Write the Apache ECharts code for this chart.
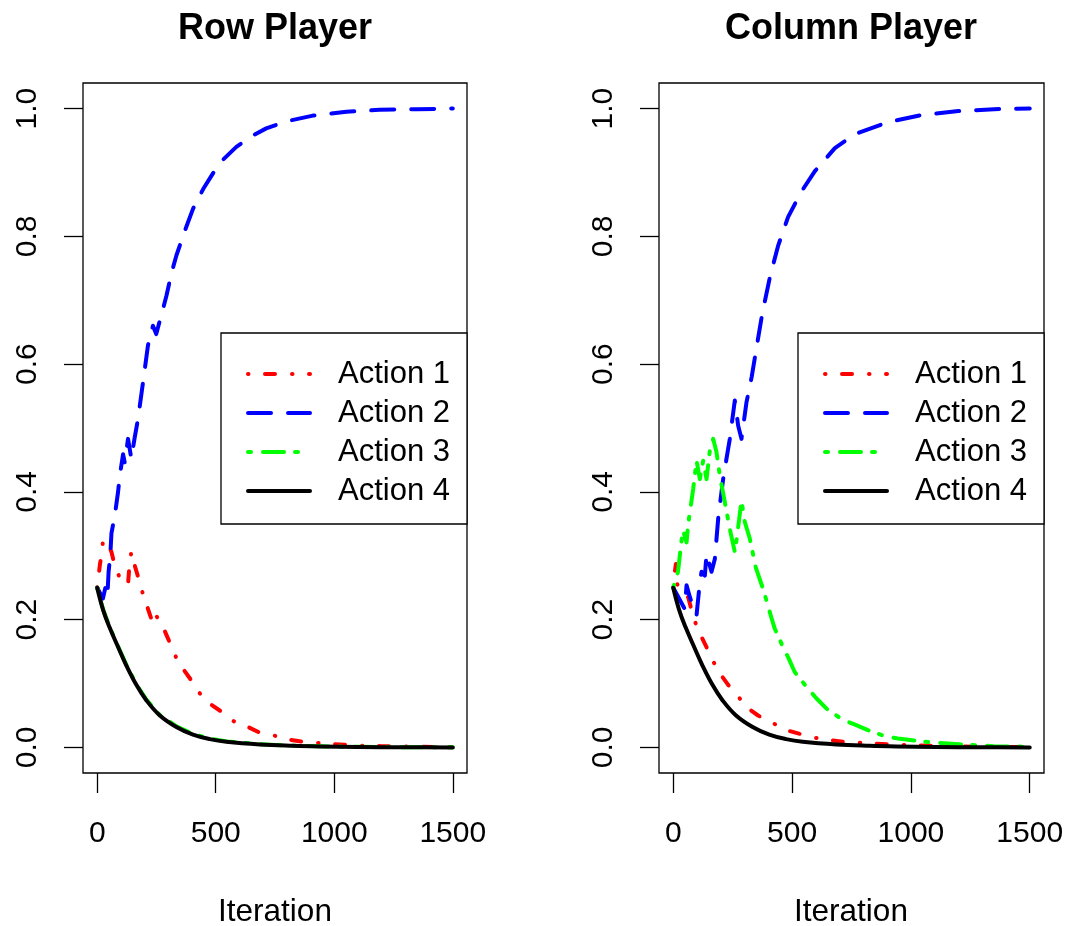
<!DOCTYPE html>
<html>
<head>
<meta charset="utf-8">
<script src="https://cdn.jsdelivr.net/npm/echarts@6/dist/echarts.min.js"></script>
<style>
html,body{margin:0;padding:0;background:#fff;}
#chart{width:1074px;height:926px;}
</style>
</head>
<body>
<div id="chart"></div>
<script>
// ---- data ----
const panelTitles = ['Row Player', 'Column Player'];
const xAxisTitle = 'Iteration';
const actionNames = ['Action 1', 'Action 2', 'Action 3', 'Action 4'];
const iterTicks = [0, 500, 1000, 1500];
const probTicks = [0, 0.2, 0.4, 0.6, 0.8, 1.0];

// Row player: [iteration, probability]
const rowA1 = [[0,0.25],[11,0.285],[17,0.30],[25,0.325],[32,0.327],[46,0.32],[60,0.306],[74,0.285],[90,0.27],[102,0.259],[110,0.262],[130,0.256],[137,0.29],[144,0.306],[158,0.285],[179,0.259],[193,0.24],[214,0.217],[235,0.194],[246,0.207],[255,0.203],[284,0.183],[305,0.165],[330,0.143],[362,0.123],[397,0.105],[432,0.085],[481,0.067],[524,0.056],[576,0.041],[636,0.032],[686,0.023],[753,0.018],[812,0.012],[869,0.009],[932,0.007],[1000,0.005],[1100,0.003],[1200,0.002],[1350,0.001],[1500,0.0005]];
const rowA2 = [[0,0.25],[24,0.233],[39,0.258],[44,0.245],[48,0.275],[55,0.30],[60,0.335],[74,0.363],[88,0.40],[95,0.425],[109,0.459],[116,0.446],[130,0.483],[144,0.452],[158,0.485],[172,0.514],[193,0.571],[214,0.629],[235,0.66],[249,0.647],[275,0.683],[292,0.707],[313,0.742],[334,0.77],[369,0.808],[404,0.843],[447,0.874],[489,0.899],[531,0.92],[587,0.94],[657,0.958],[713,0.969],[798,0.98],[910,0.989],[1051,0.995],[1191,0.998],[1350,0.999],[1500,1.0]];
const rowA3 = [[0,0.25],[25,0.216],[52,0.189],[87,0.159],[122,0.13],[165,0.099],[207,0.075],[263,0.051],[334,0.033],[404,0.021],[475,0.014],[545,0.0095],[686,0.005],[826,0.0028],[939,0.0017],[1100,0.0009],[1300,0.0004],[1500,0.0002]];
const rowA4 = [[0,0.25],[25,0.215],[52,0.188],[87,0.158],[122,0.129],[165,0.098],[207,0.074],[263,0.0505],[334,0.032],[404,0.020],[475,0.013],[545,0.0089],[686,0.0047],[826,0.0026],[939,0.0016],[1100,0.0008],[1300,0.0003],[1500,0.0001]];

// Column player
const colA1 = [[0,0.25],[5,0.27],[11,0.287],[17,0.255],[30,0.25],[45,0.24],[63,0.235],[70,0.225],[88,0.2],[112,0.178],[140,0.157],[164,0.1375],[196,0.116],[231,0.098],[270,0.081],[315,0.061],[357,0.05],[417,0.0385],[476,0.027],[525,0.022],[588,0.0156],[658,0.0115],[714,0.0089],[780,0.0073],[900,0.005],[1000,0.0035],[1200,0.0015],[1500,0.0005]];
const colA2 = [[0,0.25],[48,0.217],[56,0.254],[70,0.235],[98,0.207],[112,0.259],[119,0.275],[133,0.269],[140,0.303],[161,0.275],[175,0.295],[189,0.358],[203,0.40],[210,0.42],[224,0.452],[238,0.483],[259,0.543],[273,0.504],[287,0.483],[308,0.54],[330,0.58],[350,0.625],[375,0.68],[406,0.735],[441,0.785],[483,0.83],[539,0.87],[596,0.902],[680,0.938],[765,0.96],[906,0.979],[1047,0.99],[1200,0.996],[1350,0.999],[1500,1.0]];
const colA3 = [[0,0.25],[20,0.275],[34,0.321],[41,0.34],[56,0.321],[63,0.35],[84,0.405],[98,0.449],[112,0.42],[126,0.449],[140,0.42],[154,0.465],[168,0.483],[182,0.462],[196,0.425],[217,0.384],[238,0.342],[259,0.306],[266,0.324],[287,0.386],[301,0.353],[322,0.327],[347,0.282],[378,0.248],[410,0.207],[427,0.186],[462,0.157],[486,0.139],[511,0.118],[567,0.092],[602,0.077],[644,0.061],[714,0.043],[770,0.035],[819,0.027],[896,0.017],[945,0.014],[1050,0.009],[1200,0.005],[1350,0.002],[1500,0.001]];
const colA4 = [[0,0.25],[25,0.215],[52,0.188],[87,0.158],[122,0.129],[165,0.098],[207,0.074],[263,0.0505],[334,0.032],[404,0.020],[475,0.013],[545,0.0089],[686,0.0047],[826,0.0026],[939,0.0016],[1100,0.0008],[1300,0.0003],[1500,0.0001]];

// ---- styles ----
const FONT = 'Liberation Sans, Arial, Helvetica, sans-serif';
const actionColors = ['#ff0000', '#0000ff', '#00ff00', '#000000'];
const actionDash = [[0.5, 16.5, 10, 17], [23, 17], [3, 12, 21, 11], 'solid'];
const LW = 4;

const chart = echarts.init(document.getElementById('chart'), null, {renderer: 'canvas'});

const grids = [
  {left: 83, top: 83, width: 384, height: 690},
  {left: 659, top: 83, width: 385, height: 690}
];

function makeXAxis(i) {
  return {
    type: 'value', gridIndex: i, min: -60, max: 1560,
    axisLine: {show: false, onZero: false},
    splitLine: {show: false},
    axisTick: {show: true, customValues: iterTicks, length: 20, inside: false,
      lineStyle: {color: '#000', width: 1.3}},
    axisLabel: {show: true, customValues: iterTicks, fontSize: 30, color: '#000',
      fontFamily: FONT, margin: 46, formatter: v => String(v)}
  };
}
function makeYAxis(i) {
  return {
    type: 'value', gridIndex: i, min: -0.04, max: 1.04,
    axisLine: {show: false, onZero: false},
    splitLine: {show: false},
    axisTick: {show: true, customValues: probTicks, length: 19, inside: false,
      lineStyle: {color: '#000', width: 1.3}},
    axisLabel: {show: true, customValues: probTicks, fontSize: 30, color: '#000',
      fontFamily: FONT, rotate: 90, margin: 40, formatter: v => v.toFixed(1)}
  };
}

const allData = [[rowA1, rowA2, rowA3, rowA4], [colA1, colA2, colA3, colA4]];
const series = [];
allData.forEach((panel, gi) => {
  panel.forEach((d, ai) => {
    series.push({
      type: 'line', name: actionNames[ai], data: d,
      xAxisIndex: gi, yAxisIndex: gi,
      symbol: 'none', showSymbol: false,
      smooth: ai === 3 ? 0.4 : false,
      silent: true, animation: false, z: 2 + ai,
      lineStyle: {color: actionColors[ai], width: LW, type: actionDash[ai], cap: 'round', join: 'round'},
      itemStyle: {color: actionColors[ai]}
    });
  });
});

function makeLegend(left) {
  return {
    left: left, top: 333, orient: 'vertical',
    padding: [21.5, 17, 13.5, 25],
    itemWidth: 62, itemHeight: 14, itemGap: 0,
    borderColor: '#000', borderWidth: 1.3, borderRadius: 0,
    backgroundColor: '#fff',
    selectedMode: false,
    data: actionNames,
    itemStyle: {opacity: 0, borderWidth: 0},
    lineStyle: {width: LW, cap: 'round'},
    textStyle: {fontSize: 31, color: '#000', fontFamily: FONT, lineHeight: 39, padding: [0, 0, 0, 23]}
  };
}

const option = {
  animation: false,
  backgroundColor: '#fff',
  grid: grids.map(g => Object.assign({show: true, borderColor: '#000', borderWidth: 1.3, backgroundColor: 'transparent'}, g)),
  xAxis: [makeXAxis(0), makeXAxis(1)],
  yAxis: [makeYAxis(0), makeYAxis(1)],
  legend: [makeLegend(221), makeLegend(798)],
  series: series,
  graphic: [
    {type: 'text', x: 275, y: 29, style: {text: panelTitles[0], font: 'bold 36px ' + FONT, fill: '#000', textAlign: 'center', textVerticalAlign: 'middle'}},
    {type: 'text', x: 851, y: 29, style: {text: panelTitles[1], font: 'bold 36px ' + FONT, fill: '#000', textAlign: 'center', textVerticalAlign: 'middle'}},
    {type: 'text', x: 275, y: 912, style: {text: xAxisTitle, font: '31.5px ' + FONT, fill: '#000', textAlign: 'center', textVerticalAlign: 'middle'}},
    {type: 'text', x: 851, y: 912, style: {text: xAxisTitle, font: '31.5px ' + FONT, fill: '#000', textAlign: 'center', textVerticalAlign: 'middle'}}
  ]
};
chart.setOption(option);
</script>
</body>
</html>
